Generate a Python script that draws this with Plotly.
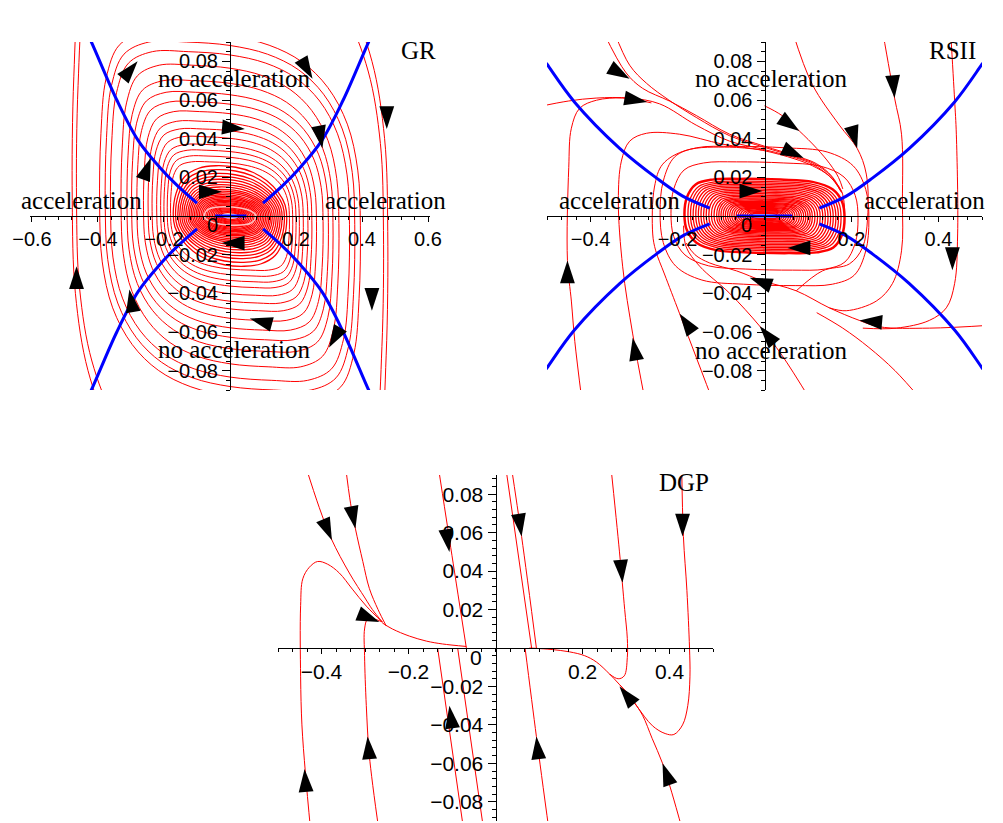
import plotly.graph_objects as go

W, H = 1003, 823
OFF = 8  # the page body margin that shifts the figure
FW, FH = W - OFF, H - OFF

# ---------------- normalized loop outlines ----------------
GR_SHAPE_U = [-1.0, -0.99, -0.95, -0.85, -0.65, -0.35, 0.0, 0.3, 0.55, 0.75, 0.9, 0.98, 1.0,
              0.99, 0.95, 0.85, 0.65, 0.35, 0.0, -0.3, -0.55, -0.75, -0.9, -0.98, -1.0]
GR_SHAPE_V = [0.05, 0.45, 0.75, 0.93, 1.0, 1.0, 0.98, 0.93, 0.84, 0.7, 0.5, 0.25, -0.05,
              -0.45, -0.75, -0.93, -1.0, -1.0, -0.98, -0.93, -0.84, -0.7, -0.5, -0.25, 0.05]
GR_INNER_U = [-1.0, -0.95, -0.8, -0.55, -0.25, 0.1, 0.4, 0.65, 0.85, 0.97, 1.0,
              0.95, 0.8, 0.55, 0.25, -0.1, -0.4, -0.65, -0.85, -0.97, -1.0]
GR_INNER_V = [0.05, 0.45, 0.78, 0.95, 1.0, 0.97, 0.87, 0.7, 0.47, 0.22, -0.05,
              -0.45, -0.78, -0.95, -1.0, -0.97, -0.87, -0.7, -0.47, -0.22, 0.05]
RS_SHAPE_U = [-1.0, -0.97, -0.86, -0.65, -0.3, 0.2, 0.6, 0.85, 0.97, 1.0,
              0.97, 0.86, 0.65, 0.3, -0.2, -0.6, -0.85, -0.97, -1.0]
RS_SHAPE_V = [0.05, 0.5, 0.85, 0.98, 1.0, 0.98, 0.92, 0.72, 0.38, -0.05,
              -0.5, -0.85, -0.98, -1.0, -0.98, -0.92, -0.72, -0.38, 0.05]

# ---------------- GR panel ----------------
GR_LOOP_A = [0.478, 0.465, 0.395, 0.378, 0.362, 0.33, 0.312, 0.298, 0.282, 0.262,
             0.248, 0.236, 0.222, 0.21, 0.2, 0.19, 0.18]
GR_LOOP_B = [0.16, 0.15, 0.095, 0.09, 0.085, 0.078, 0.07, 0.064, 0.059, 0.054,
             0.049, 0.045, 0.041, 0.037, 0.034, 0.031, 0.028]
GR_IN_A = [0.172, 0.165, 0.158, 0.152, 0.146, 0.14, 0.134, 0.128, 0.123, 0.118, 0.113,
           0.108, 0.103, 0.098, 0.093, 0.088, 0.083, 0.078, 0.073, 0.068, 0.063, 0.058,
           0.053, 0.048, 0.043, 0.038, 0.033, 0.028]
GR_IN_B = [0.026, 0.024, 0.022, 0.0205, 0.019, 0.0175, 0.0162, 0.015, 0.0138, 0.0128, 0.0119,
           0.011, 0.0102, 0.0095, 0.0088, 0.0081, 0.0075, 0.0069, 0.0063, 0.0057, 0.0052, 0.0047,
           0.0042, 0.0037, 0.0032, 0.0027, 0.0022, 0.0017]
GR_RING_A = [0.078]
GR_RING_B = [0.0048]
GR_BLUE_X = [0.1, 0.161, 0.212, 0.278, 0.343, 0.42, 0.44]
GR_BLUE_Y = [0.0067, 0.016, 0.025, 0.039, 0.06, 0.09, 0.097]
GR_CORE_X = [-0.045, 0.05]
GR_CORE_Y = [0.0, 0.0]
GR_ARROW_X = [-0.28, 0.25, 0.045, -0.24, 0.28, -0.025, 0.475, -0.465, -0.305, -0.025, 0.06, 0.43, 0.3]
GR_ARROW_Y = [0.08, 0.071, 0.045, 0.03, 0.035, 0.0125, 0.045, -0.026, -0.038, -0.014, -0.053, -0.049, -0.068]
GR_ARROW_ANG = [40, 150, 95, 20, 170, 90, 180, 0, -10, 270, 285, 180, 210]

# ---------------- RSII panel ----------------
RS_LOOP_A = [0.176, 0.17, 0.164, 0.158, 0.152, 0.146, 0.14, 0.134, 0.128, 0.122, 0.116, 0.11,
             0.105, 0.1, 0.095, 0.09, 0.085, 0.08, 0.075, 0.07, 0.065, 0.06, 0.055, 0.05,
             0.045, 0.04, 0.035, 0.03]
RS_LOOP_B = [0.018, 0.0172, 0.0164, 0.0156, 0.0148, 0.014, 0.0132, 0.0124, 0.0116, 0.0108,
             0.0101, 0.0094, 0.0088, 0.0082, 0.0076, 0.007, 0.0065, 0.006, 0.0055, 0.005,
             0.0045, 0.004, 0.0035, 0.003, 0.0026, 0.0022, 0.0018, 0.0014]
RS_RING_A = [0.184]
RS_RING_B = [0.0192]
RS_OUTER_A = [0.215, 0.24]
RS_OUTER_B = [0.028, 0.036]
RS_BLUE_X = [0.126, 0.188, 0.248, 0.333, 0.437, 0.5, 0.52]
RS_BLUE_Y = [0.0041, 0.0103, 0.0196, 0.035, 0.059, 0.0785, 0.085]
RS_CORE_X = [-0.064, 0.064]
RS_CORE_Y = [0.0, 0.0]

RS_A1_X = [-0.52, -0.45, -0.387, -0.31, -0.241, -0.157, -0.08, -0.005, 0.073, 0.11, 0.149, 0.177, 0.184]
RS_A1_Y = [0.0565, 0.0595, 0.061, 0.061, 0.058, 0.047, 0.0387, 0.0346, 0.030, 0.0268, 0.0206, 0.0129, 0.004]
RS_A2_X = [-0.37, -0.318, -0.28, -0.218, -0.157, -0.08, 0.0, 0.073, 0.12, 0.155, 0.178]
RS_A2_Y = [0.095, 0.074, 0.066, 0.0594, 0.052, 0.0423, 0.0361, 0.031, 0.027, 0.0205, 0.012]
RS_A3_X = [-0.345, -0.31, -0.271, -0.22, -0.157, -0.08, 0.0, 0.073, 0.115, 0.152, 0.176]
RS_A3_Y = [0.095, 0.078, 0.0686, 0.06, 0.051, 0.0415, 0.0355, 0.0305, 0.027, 0.0208, 0.0125]
RS_A4_X = [-0.42, -0.436, -0.444, -0.453, -0.45, -0.444, -0.425, -0.386, -0.326, -0.26]
RS_A4_Y = [-0.095, -0.065, -0.044, -0.023, 0.025, 0.0454, 0.0557, 0.0599, 0.061, 0.0585]
RS_A5_X = [-0.275, -0.303, -0.326, -0.336, -0.329, -0.31, -0.271, -0.195, -0.097, -0.005, 0.07, 0.11, 0.15, 0.175]
RS_A5_Y = [-0.095, -0.061, -0.0263, 0.0077, 0.0284, 0.0387, 0.0428, 0.0423, 0.0372, 0.034, 0.0295, 0.026, 0.0205, 0.013]
RS_A6_X = [-0.12, -0.195, -0.23, -0.25, -0.257, -0.253, -0.234, -0.18, -0.08, 0.0]
RS_A6_Y = [-0.095, -0.0506, -0.03, -0.018, -0.0093, 0.015, 0.0268, 0.034, 0.0356, 0.034]
RS_A7_X = [0.105, 0.04, -0.011, -0.08, -0.149, -0.18, -0.186]
RS_A7_Y = [-0.095, -0.072, -0.057, -0.040, -0.026, -0.016, -0.005]
RS_A8_X = [0.52, 0.379, 0.264, 0.218, 0.149, 0.073, -0.005, -0.064, -0.126, -0.16, -0.18]
RS_A8_Y = [-0.0565, -0.058, -0.0573, -0.054, -0.0475, -0.0387, -0.0335, -0.0284, -0.0243, -0.02, -0.014]
RS_A9_X = [0.428, 0.437, 0.441, 0.444, 0.437, 0.418, 0.379, 0.303, 0.226]
RS_A9_Y = [0.095, 0.06, 0.0423, -0.0093, -0.035, -0.0475, -0.054, -0.058, -0.058]
RS_A10_X = [0.272, 0.299, 0.315, 0.317, 0.315, 0.294, 0.257, 0.188, 0.149]
RS_A10_Y = [0.095, 0.061, 0.0423, 0.0077, -0.018, -0.035, -0.044, -0.049, -0.0475]
RS_A11_X = [0.065, 0.11, 0.172, 0.213, 0.234, 0.237, 0.225, 0.195, 0.133, 0.073]
RS_A11_Y = [0.095, 0.068, 0.047, 0.035, 0.0217, -0.001, -0.0165, -0.0248, -0.0284, -0.0387]
RS_A12_X = [0.0, 0.04, 0.08, 0.12, 0.15, 0.17, 0.18]
RS_A12_Y = [0.057, 0.052, 0.044, 0.035, 0.027, 0.02, 0.014]
RS_A13_X = [0.36, 0.3, 0.24, 0.18, 0.12]
RS_A13_Y = [-0.095, -0.08, -0.068, -0.058, -0.05]
RS_ARROW_X = [-0.31, -0.27, 0.09, 0.08, 0.213, 0.299, -0.005, 0.053, -0.034, 0.218, 0.432, -0.453, -0.303, -0.195, -0.011]
RS_ARROW_Y = [0.071, 0.059, 0.03, 0.044, 0.035, 0.061, 0.0129, -0.0165, -0.032, -0.054, -0.028, -0.023, -0.063, -0.0506, -0.057]
RS_ARROW_ANG = [120, 100, 115, 125, 165, 175, 90, 270, 290, 275, 180, 0, -10, -35, -40]

# ---------------- DGP panel ----------------
DG_1_X = [-0.425, -0.437, -0.445, -0.448, -0.448, -0.443, -0.428, -0.409, -0.386, -0.359, -0.329, -0.297, -0.26]
DG_1_Y = [-0.095, -0.065, -0.04, -0.015, 0.022, 0.036, 0.042, 0.045, 0.0436, 0.039, 0.0306, 0.0218, 0.0135]
DG_2_X = [-0.268, -0.29, -0.297, -0.301, -0.301, -0.294, -0.278, -0.26]
DG_2_Y = [-0.095, -0.056, -0.030, -0.004, 0.0099, 0.015, 0.015, 0.0135]
DG_3_X = [-0.437, -0.405, -0.377, -0.336, -0.3, -0.283, -0.26]
DG_3_Y = [0.095, 0.073, 0.0566, 0.039, 0.026, 0.02, 0.0135]
DG_4_X = [-0.345, -0.333, -0.322, -0.305, -0.29, -0.27, -0.251]
DG_4_Y = [0.095, 0.075, 0.062, 0.045, 0.031, 0.02, 0.0114]
DG_L_X = [-0.26, -0.237, -0.198, -0.159, -0.122, -0.067]
DG_L_Y = [0.013, 0.0099, 0.0062, 0.0036, 0.0021, 0.0008]
DG_5_X = [-0.132, -0.1, -0.067]
DG_5_Y = [0.095, 0.048, 0.0]
DG_6_X = [-0.133, -0.073]
DG_6_Y = [0.0, -0.095]
DG_7_X = [-0.087, -0.027]
DG_7_Y = [0.0, -0.095]
DG_8_X = [0.023, 0.083]
DG_8_Y = [0.095, 0.0]
DG_9_X = [0.036, 0.06, 0.094]
DG_9_Y = [0.095, 0.058, 0.0]
DG_10_X = [0.123, 0.094, 0.068]
DG_10_Y = [-0.095, -0.046, 0.0]
DG_R_X = [0.285, 0.262, 0.232, 0.205, 0.17, 0.13, 0.094, 0.078]
DG_R_Y = [-0.019, -0.0135, -0.0073, -0.004, -0.002, -0.0008, -0.0002, 0.0]
DG_11_X = [0.265, 0.285, 0.297, 0.303, 0.303, 0.296, 0.282, 0.262]
DG_11_Y = [0.095, 0.05, 0.02, 0.005, -0.005, -0.0145, -0.016, -0.0135]
DG_12_X = [0.428, 0.432, 0.44, 0.446, 0.447, 0.442, 0.43, 0.41, 0.39, 0.361, 0.324, 0.301, 0.285]
DG_12_Y = [0.095, 0.058, 0.03, 0.0, -0.015, -0.03, -0.04, -0.045, -0.0445, -0.0405, -0.030, -0.023, -0.019]
DG_13_X = [0.43, 0.405, 0.384, 0.36, 0.338, 0.315, 0.301, 0.285]
DG_13_Y = [-0.095, -0.075, -0.06, -0.047, -0.035, -0.027, -0.023, -0.019]
DG_ARROW_X = [-0.376, -0.322, -0.267, -0.106, -0.439, -0.294, -0.106, 0.06, 0.292, 0.43, 0.094, 0.285, 0.384]
DG_ARROW_Y = [0.056, 0.062, 0.0135, 0.05, -0.063, -0.046, -0.03, 0.058, 0.034, 0.058, -0.046, -0.02, -0.06]
DG_ARROW_ANG = [157, 169, 112, 171, -4, -5, -8, 172, 175, 180, -6, -39, -20]

X_TICKS_GR = [-0.6, -0.4, -0.2, 0.2, 0.4, 0.6]
X_TICKS_RS = [-0.4, -0.2, 0.2, 0.4]
Y_TICKS = [-0.08, -0.06, -0.04, -0.02, 0.02, 0.04, 0.06, 0.08]

RED = "#ff0000"
BLUE = "#0000ff"
PALE = "#ffc0c0"
SERIF = "Liberation Serif"
SANS = "Liberation Sans"

fig = go.Figure()


def line(xs, ys, k, color=RED, width=1.0):
    s = "" if k == 1 else str(k)
    fig.add_trace(go.Scatter(x=xs, y=ys, xaxis="x" + s, yaxis="y" + s, mode="lines",
                             line=dict(color=color, width=width, shape="spline", smoothing=1.0),
                             hoverinfo="skip", showlegend=False))


def loops(A, B, U, V, k, color=RED, width=1.0):
    for a, b in zip(A, B):
        line([a * u for u in U], [b * v for v in V], k, color, width)


def blue_branches(BX, BY, k):
    line(BX, BY, k, BLUE, 3)
    line([-x for x in BX], BY, k, BLUE, 3)
    line(BX, [-y for y in BY], k, BLUE, 3)
    line([-x for x in BX], [-y for y in BY], k, BLUE, 3)


def arrows(X, Y, ANG, k):
    s = "" if k == 1 else str(k)
    fig.add_trace(go.Scatter(x=X, y=Y, xaxis="x" + s, yaxis="y" + s, mode="markers",
                             marker=dict(symbol="arrow", size=24, angle=ANG, color="black",
                                         line=dict(width=0)),
                             hoverinfo="skip", showlegend=False))


# GR
loops(GR_LOOP_A, GR_LOOP_B, GR_SHAPE_U, GR_SHAPE_V, 1)
loops(GR_IN_A, GR_IN_B, GR_INNER_U, GR_INNER_V, 1, RED, 1.3)
loops(GR_RING_A, GR_RING_B, GR_INNER_U, GR_INNER_V, 1, PALE, 1.5)
blue_branches(GR_BLUE_X, GR_BLUE_Y, 1)
line(GR_CORE_X, GR_CORE_Y, 1, BLUE, 3)
arrows(GR_ARROW_X, GR_ARROW_Y, GR_ARROW_ANG, 1)

# RSII
loops(RS_LOOP_A, RS_LOOP_B, RS_SHAPE_U, RS_SHAPE_V, 2, RED, 1.3)
loops(RS_OUTER_A, RS_OUTER_B, RS_SHAPE_U, RS_SHAPE_V, 2)
for px_, py_ in [(RS_A1_X, RS_A1_Y), (RS_A2_X, RS_A2_Y), (RS_A3_X, RS_A3_Y), (RS_A4_X, RS_A4_Y),
                 (RS_A5_X, RS_A5_Y), (RS_A6_X, RS_A6_Y), (RS_A7_X, RS_A7_Y), (RS_A8_X, RS_A8_Y),
                 (RS_A9_X, RS_A9_Y), (RS_A10_X, RS_A10_Y), (RS_A11_X, RS_A11_Y), (RS_A12_X, RS_A12_Y),
                 (RS_A13_X, RS_A13_Y)]:
    line(px_, py_, 2)
loops(RS_RING_A, RS_RING_B, RS_SHAPE_U, RS_SHAPE_V, 2, RED, 2.5)
blue_branches(RS_BLUE_X, RS_BLUE_Y, 2)
line(RS_CORE_X, RS_CORE_Y, 2, BLUE, 3)
arrows(RS_ARROW_X, RS_ARROW_Y, RS_ARROW_ANG, 2)

# DGP
for px_, py_ in [(DG_1_X, DG_1_Y), (DG_2_X, DG_2_Y), (DG_3_X, DG_3_Y), (DG_4_X, DG_4_Y),
                 (DG_L_X, DG_L_Y), (DG_5_X, DG_5_Y), (DG_6_X, DG_6_Y), (DG_7_X, DG_7_Y),
                 (DG_8_X, DG_8_Y), (DG_9_X, DG_9_Y), (DG_10_X, DG_10_Y), (DG_R_X, DG_R_Y),
                 (DG_11_X, DG_11_Y), (DG_12_X, DG_12_Y), (DG_13_X, DG_13_Y)]:
    line(px_, py_, 3)
arrows(DG_ARROW_X, DG_ARROW_Y, DG_ARROW_ANG, 3)


def fmt(v):
    return ("\u2212" if v < 0 else "") + ("%g" % abs(v))


def fx(p):
    return (p - OFF) / FW


def fy(p):
    return 1 - (p - OFF) / FH


def axes(k, xr, yr, x0, x1, y0, y1, xt, xminor, yminor, fs):
    s = "" if k == 1 else str(k)
    xmid = x0 + (0 - xr[0]) / (xr[1] - xr[0]) * (x1 - x0)
    ymid = y0 + (yr[1] - 0) / (yr[1] - yr[0]) * (y1 - y0)
    common = dict(showline=True, linecolor="black", linewidth=1, ticks="outside",
                  tickwidth=1, tickcolor="black", showgrid=False, zeroline=False,
                  fixedrange=True, automargin=False,
                  tickfont=dict(family=SANS, size=fs, color="black"))
    fig.layout["xaxis" + s] = dict(
        domain=[fx(x0), fx(x1)], range=xr, anchor="free", position=fy(ymid),
        tickmode="array", tickvals=xt, ticktext=[fmt(v) for v in xt], ticklen=5,
        minor=dict(tickmode="linear", tick0=0, dtick=xminor, ticklen=3, ticks="outside",
                   tickcolor="black", tickwidth=1, showgrid=False),
        **common)
    fig.layout["yaxis" + s] = dict(
        domain=[fy(y1), fy(y0)], range=yr, anchor="free", position=fx(xmid),
        tickmode="array", tickvals=Y_TICKS, ticktext=[fmt(v) for v in Y_TICKS], ticklen=8,
        minor=dict(tickmode="linear", tick0=0, dtick=yminor, ticklen=4, ticks="outside",
                   tickcolor="black", tickwidth=1, showgrid=False),
        **common)


axes(1, [-0.606, 0.606], [-0.09, 0.09], 30, 430, 42, 390, X_TICKS_GR, 0.04, 0.005, 20)
axes(2, [-0.5, 0.5], [-0.09, 0.09], 547, 982, 42, 390, X_TICKS_RS, 0.1 / 3, 0.005, 20)
axes(3, [-0.5, 0.5], [-0.09, 0.09], 278, 713, 475, 821, X_TICKS_RS, 0.1 / 3, 0.004, 21)

ann = []


def text(k, x, y, t, size=25, family=SERIF):
    s = "" if k == 1 else str(k)
    ann.append(dict(xref="x" + s, yref="y" + s, x=x, y=y, text=t, showarrow=False,
                    font=dict(family=family, size=size, color="black"),
                    xanchor="center", yanchor="middle"))


PHIDOT = "\u03d5\u0307"
PHI = "\u03d5"
# GR
text(1, 0.012, 0.0712, "no acceleration")
text(1, 0.012, -0.069, "no acceleration")
text(1, -0.449, 0.008, "acceleration")
text(1, 0.472, 0.008, "acceleration")
text(1, 0.571, 0.0857, "GR")
text(1, 0.03, 0.0975, PHIDOT, 22)
text(1, 0.68, -0.0057, PHI, 22)
text(1, -0.052, -0.0046, "0", 20, SANS)
# RSII
text(2, 0.016, 0.0712, "no acceleration")
text(2, 0.016, -0.0697, "no acceleration")
text(2, -0.333, 0.008, "acceleration")
text(2, 0.368, 0.008, "acceleration")
text(2, 0.432, 0.0857, "RSII")
text(2, 0.03, 0.0975, PHIDOT, 22)
text(2, 0.529, -0.0057, PHI, 22)
text(2, -0.041, -0.0046, "0", 20, SANS)
# DGP
text(3, 0.434, 0.0862, "DGP")
text(3, 0.03, 0.097, PHIDOT, 22)
text(3, 0.522, -0.0057, PHI, 22)
text(3, -0.044, -0.0047, "0", 21, SANS)

fig.update_layout(width=FW, height=FH, margin=dict(l=0, r=0, t=0, b=0),
                  paper_bgcolor="white", plot_bgcolor="rgba(0,0,0,0)",
                  showlegend=False, annotations=ann)

fig.write_html("out.html")
